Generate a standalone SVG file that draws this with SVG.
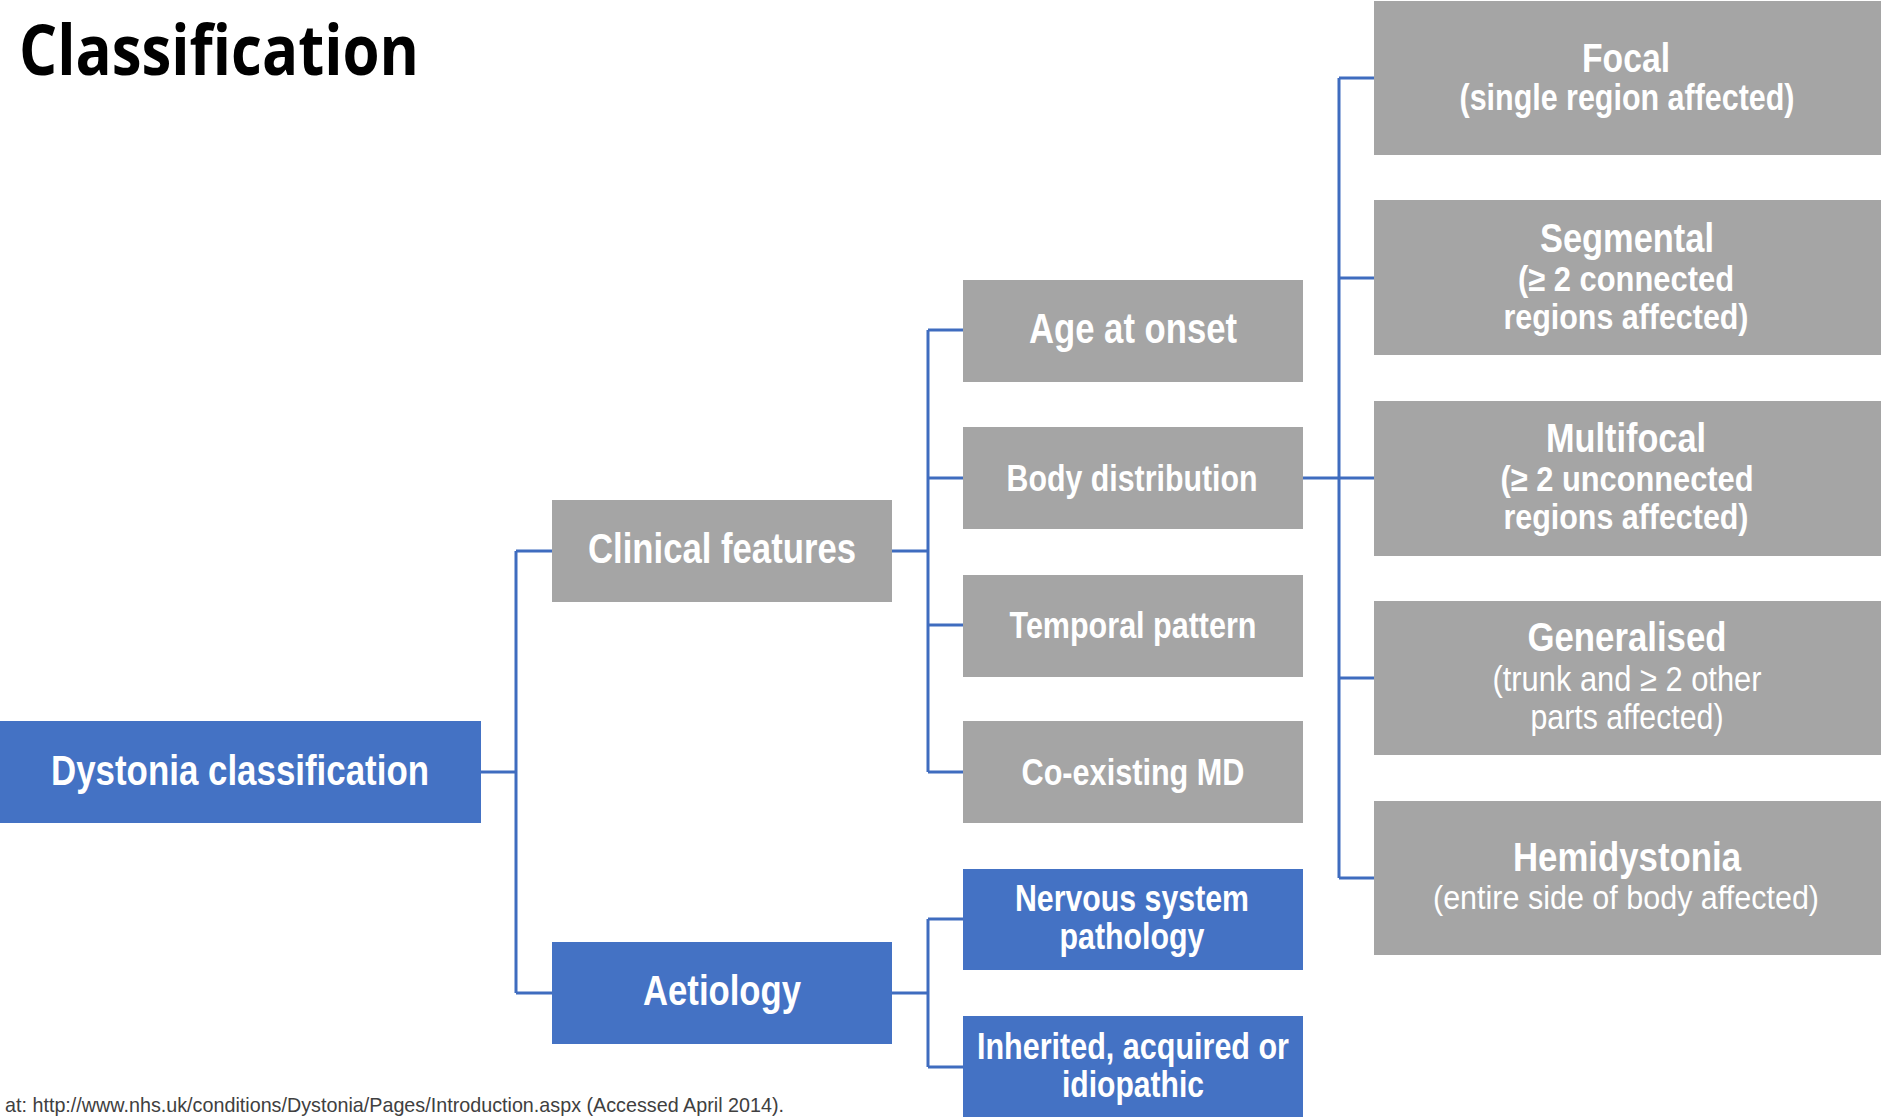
<svg xmlns="http://www.w3.org/2000/svg" width="1881" height="1117" viewBox="0 0 1881 1117">
<style>
.g{fill:#A5A5A5}
.b{fill:#4472C4}
.t{font-family:"Liberation Sans Narrow","Liberation Sans",Arial,sans-serif;font-weight:bold;fill:#FFFFFF;text-anchor:middle}
.r{font-weight:normal}
.c{fill:none;stroke:#3F6CBF;stroke-width:3}
</style>
<rect width="1881" height="1117" fill="#FFFFFF"/>
<text x="19" y="75" font-family="'Open Sans','Noto Sans',sans-serif" font-weight="bold" font-size="70" fill="#000000" textLength="400" lengthAdjust="spacingAndGlyphs">Classification</text>
<g id="connectors" class="c">
<path d="M481 772 H516 M516 551 V993 M516 551 H552 M516 993 H552"/>
<path d="M892 551 H928 M928 330 V772 M928 330 H963 M928 478 H963 M928 625 H963 M928 772 H963"/>
<path d="M892 993 H928 M928 919 V1067 M928 919 H963 M928 1067 H963"/>
<path d="M1303 478 H1339 M1339 78 V878 M1339 78 H1374 M1339 278 H1374 M1339 478 H1374 M1339 678 H1374 M1339 878 H1374"/>
</g>
<g id="dystonia">
<rect class="b" x="0" y="721" width="481" height="102"/>
<text class="t" x="240" y="785" font-size="42" textLength="378" lengthAdjust="spacingAndGlyphs">Dystonia classification</text>
</g>
<g id="clinical">
<rect class="g" x="552" y="500" width="340" height="102"/>
<text class="t" x="722" y="563" font-size="43" textLength="268" lengthAdjust="spacingAndGlyphs">Clinical features</text>
</g>
<g id="aetiology">
<rect class="b" x="552" y="942" width="340" height="102"/>
<text class="t" x="722" y="1005" font-size="42" textLength="158" lengthAdjust="spacingAndGlyphs">Aetiology</text>
</g>
<g id="age">
<rect class="g" x="963" y="280" width="340" height="102"/>
<text class="t" x="1133" y="343" font-size="42" textLength="208" lengthAdjust="spacingAndGlyphs">Age at onset</text>
</g>
<g id="body">
<rect class="g" x="963" y="427" width="340" height="102"/>
<text class="t" x="1132" y="491" font-size="37" textLength="251" lengthAdjust="spacingAndGlyphs">Body distribution</text>
</g>
<g id="temporal">
<rect class="g" x="963" y="575" width="340" height="102"/>
<text class="t" x="1133" y="638" font-size="37" textLength="247" lengthAdjust="spacingAndGlyphs">Temporal pattern</text>
</g>
<g id="coexisting">
<rect class="g" x="963" y="721" width="340" height="102"/>
<text class="t" x="1133" y="785" font-size="37" textLength="223" lengthAdjust="spacingAndGlyphs">Co-existing MD</text>
</g>
<g id="nervous">
<rect class="b" x="963" y="869" width="340" height="101"/>
<text class="t" x="1132" y="911" font-size="36" textLength="234" lengthAdjust="spacingAndGlyphs">Nervous system</text>
<text class="t" x="1132" y="949" font-size="36" textLength="145" lengthAdjust="spacingAndGlyphs">pathology</text>
</g>
<g id="inherited">
<rect class="b" x="963" y="1016" width="340" height="102"/>
<text class="t" x="1133" y="1059" font-size="36" textLength="312" lengthAdjust="spacingAndGlyphs">Inherited, acquired or</text>
<text class="t" x="1133" y="1097" font-size="36" textLength="142" lengthAdjust="spacingAndGlyphs">idiopathic</text>
</g>
<g id="focal">
<rect class="g" x="1374" y="1" width="507" height="154"/>
<text class="t" x="1626" y="72" font-size="41" textLength="88" lengthAdjust="spacingAndGlyphs">Focal</text>
<text class="t" x="1627" y="110" font-size="36" textLength="335" lengthAdjust="spacingAndGlyphs">(single region affected)</text>
</g>
<g id="segmental">
<rect class="g" x="1374" y="200" width="507" height="155"/>
<text class="t" x="1627" y="252" font-size="41" textLength="174" lengthAdjust="spacingAndGlyphs">Segmental</text>
<text class="t" x="1626" y="291" font-size="35" textLength="216" lengthAdjust="spacingAndGlyphs">(≥ 2 connected</text>
<text class="t" x="1626" y="329" font-size="35" textLength="245" lengthAdjust="spacingAndGlyphs">regions affected)</text>
</g>
<g id="multifocal">
<rect class="g" x="1374" y="401" width="507" height="155"/>
<text class="t" x="1626" y="452" font-size="41" textLength="160" lengthAdjust="spacingAndGlyphs">Multifocal</text>
<text class="t" x="1627" y="491" font-size="35" textLength="253" lengthAdjust="spacingAndGlyphs">(≥ 2 unconnected</text>
<text class="t" x="1626" y="529" font-size="35" textLength="245" lengthAdjust="spacingAndGlyphs">regions affected)</text>
</g>
<g id="generalised">
<rect class="g" x="1374" y="601" width="507" height="154"/>
<text class="t" x="1627" y="651" font-size="41" textLength="199" lengthAdjust="spacingAndGlyphs">Generalised</text>
<text class="t r" x="1627" y="691" font-size="35" textLength="269" lengthAdjust="spacingAndGlyphs">(trunk and ≥ 2 other</text>
<text class="t r" x="1627" y="729" font-size="35" textLength="193" lengthAdjust="spacingAndGlyphs">parts affected)</text>
</g>
<g id="hemidystonia">
<rect class="g" x="1374" y="801" width="507" height="154"/>
<text class="t" x="1627" y="871" font-size="41" textLength="228" lengthAdjust="spacingAndGlyphs">Hemidystonia</text>
<text class="t r" x="1626" y="909" font-size="33" textLength="386" lengthAdjust="spacingAndGlyphs">(entire side of body affected)</text>
</g>
<text x="5" y="1112" font-family="'Liberation Sans Narrow','Liberation Sans',Arial,sans-serif" font-size="21" fill="#404040" textLength="779" lengthAdjust="spacingAndGlyphs">at: http://www.nhs.uk/conditions/Dystonia/Pages/Introduction.aspx (Accessed April 2014).</text>
</svg>
